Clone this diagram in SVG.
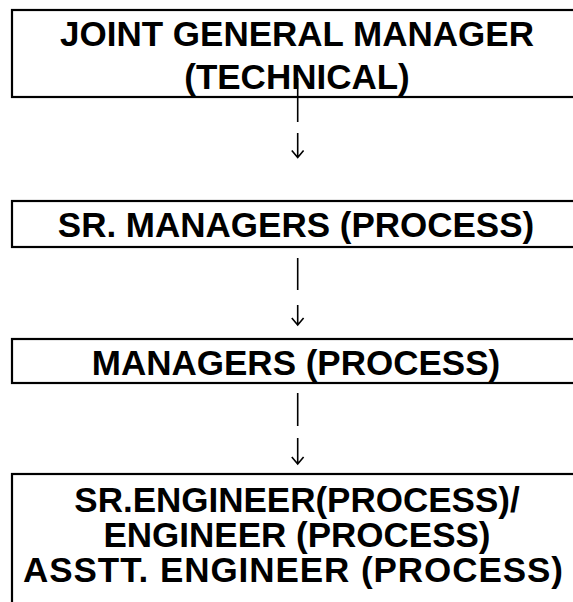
<svg xmlns="http://www.w3.org/2000/svg" width="573" height="602" viewBox="0 0 573 602">
<style>
.box{fill:#fff;stroke:#000;stroke-width:2.2}
.t{font-family:"Liberation Sans",Arial,sans-serif;font-weight:bold;font-size:35px;fill:#000;text-anchor:middle}
.c{stroke:#000;stroke-width:1.6;fill:none}
</style>
<rect width="573" height="602" fill="#fff"/>
<g id="n1">
<rect class="box" x="12" y="10" width="580" height="87"/>
<text class="t" x="297" y="46">JOINT GENERAL MANAGER</text>
<text class="t" x="297" y="89">(TECHNICAL)</text>
</g>
<g id="n2">
<rect class="box" x="12" y="201" width="580" height="46"/>
<text class="t" x="296" y="237">SR. MANAGERS (PROCESS)</text>
</g>
<g id="n3">
<rect class="box" x="12" y="339" width="580" height="44"/>
<text class="t" x="296" y="375">MANAGERS (PROCESS)</text>
</g>
<g id="n4">
<rect class="box" x="12" y="474" width="580" height="140"/>
<text class="t" x="297" y="512">SR.ENGINEER(PROCESS)/</text>
<text class="t" x="297" y="547">ENGINEER (PROCESS)</text>
<text class="t" x="293" y="582" textLength="540" lengthAdjust="spacing">ASSTT. ENGINEER (PROCESS)</text>
</g>
<g id="connectors">
<path class="c" d="M297.7 78V122M297.7 133V157.5M291.8 150.5L297.7 157.5L303.6 150.5"/>
<path class="c" d="M297.7 258V290M297.7 305V325M291.8 318L297.7 325L303.6 318"/>
<path class="c" d="M297.7 393V426M297.7 438V464M291.8 457L297.7 464L303.6 457"/>
</g>
</svg>
